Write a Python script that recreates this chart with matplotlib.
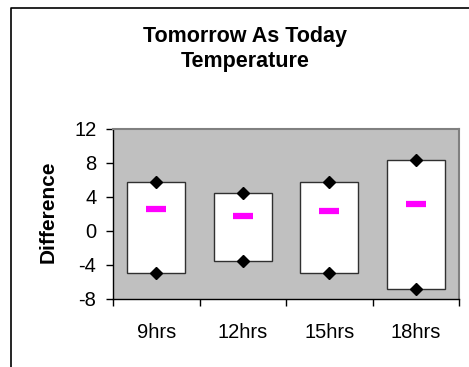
import matplotlib
matplotlib.use("Agg")
import matplotlib.pyplot as plt
from matplotlib.lines import Line2D

plt.rcParams['font.family'] = ['Liberation Sans', 'DejaVu Sans']

# data
categories = ["9hrs", "12hrs", "15hrs", "18hrs"]
high = [5.73, 4.43, 5.73, 8.35]
low = [-4.98, -3.53, -4.94, -6.86]
mid = [2.59, 1.76, 2.35, 3.21]
y_ticks = [-8, -4, 0, 4, 8, 12]

W, H = 469, 367
fig = plt.figure(figsize=(W / 100, H / 100), dpi=100)
fig.patch.set_facecolor('white')

# outer chart border (cut off at right and bottom)
fig.add_artist(Line2D([11 / W, 11 / W, 1.0], [0.0, 1 - 8 / H, 1 - 8 / H],
                      transform=fig.transFigure, color='black', lw=1.2))

ax = fig.add_axes([113 / W, 1 - 299 / H, (459 - 113) / W, (299 - 129) / H])
ax.set_facecolor('#C0C0C0')

x = list(range(len(categories)))
ax.bar(x, [h - l for h, l in zip(high, low)], bottom=low, width=0.67,
       color='white', edgecolor='#303030', lw=1.0, zorder=2)
ax.plot(x, high, 'D', color='black', ms=6.5, zorder=3)
ax.plot(x, low, 'D', color='black', ms=6.5, zorder=3)
ax.plot(x, mid, '_', color='#FF00FF', ms=15, mew=4.5, zorder=3)

ax.set_xlim(-0.5, len(categories) - 0.5)
ax.set_ylim(-8, 12)
ax.set_yticks(y_ticks)
ax.set_yticklabels([str(v) for v in y_ticks])
ax.set_xticks([i - 0.5 for i in range(len(categories) + 1)])
ax.set_xticklabels([])
ax.set_xticks(x, minor=True)
ax.set_xticklabels(categories, minor=True)
ax.tick_params(axis='x', which='major', length=5, width=1, direction='out')
ax.tick_params(axis='x', which='minor', length=0, pad=17, labelsize=14.5)
ax.tick_params(axis='y', length=5, width=1, direction='out', pad=7, labelsize=14.5)

for s in ['left', 'bottom']:
    ax.spines[s].set_color('black')
    ax.spines[s].set_linewidth(1.0)
for s in ['top', 'right']:
    ax.spines[s].set_color('#808080')
    ax.spines[s].set_linewidth(1.5)

fig.text(48.5 / W, 1 - 212 / H, "Difference", rotation=90, ha='center', va='center',
         fontsize=15, fontweight='bold')
fig.text(245 / W, 1 - 49 / H, "Tomorrow As Today\nTemperature", ha='center', va='center',
         fontsize=15.5, fontweight='bold', linespacing=1.25)

fig.savefig("out.png", dpi=100)
